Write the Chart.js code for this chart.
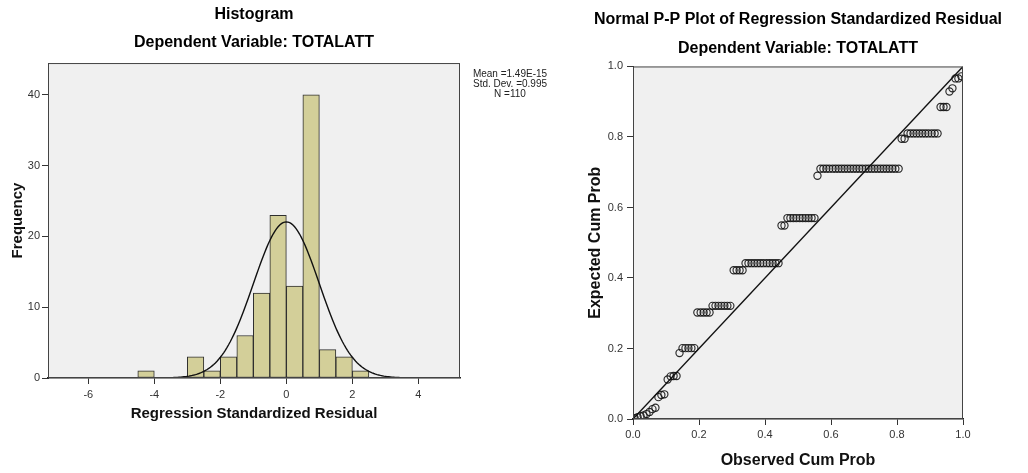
<!DOCTYPE html>
<html>
<head>
<meta charset="utf-8">
<script src="https://cdn.jsdelivr.net/npm/chart.js@4"></script>
<style>
    html, body { margin: 0; padding: 0; background: #fff; }
    body { width: 1028px; height: 473px; position: relative; overflow: hidden; font-family: "Liberation Sans", Arial, sans-serif; }
    #histBox { position: absolute; left: 0; top: 0; width: 560px; height: 473px; }
    #ppBox { position: absolute; left: 560px; top: 0; width: 468px; height: 473px; }
    #stats { position: absolute; left: 460px; top: 69px; width: 100px; text-align: center; font-size: 10px; line-height: 10px; color: #222; }
</style>
</head>
<body>
<div id="histBox"><canvas id="histChart"></canvas></div>
<div id="ppBox"><canvas id="ppChart"></canvas></div>
<div id="stats"></div>
<script>
const FONT = '"Liberation Sans", Arial, sans-serif';

// Histogram: 0.5 wide bins, given by their centres
const histBinCenters = [-4.25, -2.75, -2.25, -1.75, -1.25, -0.75, -0.25, 0.25, 0.75, 1.25, 1.75, 2.25];
const histCounts     = [1, 3, 1, 3, 6, 12, 23, 13, 40, 4, 3, 1];
const histXTicks = [-6, -4, -2, 0, 2, 4];
const histYTicks = [0, 10, 20, 30, 40];
const binWidth = 0.5;
const residMean = 1.49e-15, residMeanLabel = '1.49E-15';
const residSd = 0.995;
const residN = 110;

// Normal P-P plot
const ppTicks = [0, 0.2, 0.4, 0.6, 0.8, 1.0];
const ppDiagonal = [0, 1];
const ppObserved = [
    0.005, 0.014, 0.023, 0.032, 0.041, 0.050, 0.059, 0.068, 0.077, 0.086,
    0.095, 0.105, 0.114, 0.123, 0.132, 0.141, 0.150, 0.159, 0.168, 0.177,
    0.186, 0.195, 0.205, 0.214, 0.223, 0.232, 0.241, 0.250, 0.259, 0.268,
    0.277, 0.286, 0.295, 0.305, 0.314, 0.323, 0.332, 0.341, 0.350, 0.359,
    0.368, 0.377, 0.386, 0.395, 0.405, 0.414, 0.423, 0.432, 0.441, 0.450,
    0.459, 0.468, 0.477, 0.486, 0.495, 0.505, 0.514, 0.523, 0.532, 0.541,
    0.550, 0.559, 0.568, 0.577, 0.586, 0.595, 0.605, 0.614, 0.623, 0.632,
    0.641, 0.650, 0.659, 0.668, 0.677, 0.686, 0.695, 0.705, 0.714, 0.723,
    0.732, 0.741, 0.750, 0.759, 0.768, 0.777, 0.786, 0.795, 0.805, 0.814,
    0.823, 0.832, 0.841, 0.850, 0.859, 0.868, 0.877, 0.886, 0.895, 0.905,
    0.914, 0.923, 0.932, 0.941, 0.950, 0.959, 0.968, 0.977, 0.986, 0.995
];
const ppExpected = [
    0.002, 0.005, 0.008, 0.010, 0.014, 0.020, 0.028, 0.032, 0.062, 0.068,
    0.070, 0.112, 0.121, 0.122, 0.122, 0.187, 0.201, 0.201, 0.201, 0.201,
    0.201, 0.302, 0.302, 0.302, 0.302, 0.302, 0.321, 0.321, 0.321, 0.321,
    0.321, 0.321, 0.321, 0.422, 0.422, 0.422, 0.422, 0.442, 0.442, 0.442,
    0.442, 0.442, 0.442, 0.442, 0.442, 0.442, 0.442, 0.442, 0.442, 0.549,
    0.549, 0.570, 0.570, 0.570, 0.570, 0.570, 0.570, 0.570, 0.570, 0.570,
    0.570, 0.690, 0.710, 0.710, 0.710, 0.710, 0.710, 0.710, 0.710, 0.710,
    0.710, 0.710, 0.710, 0.710, 0.710, 0.710, 0.710, 0.710, 0.710, 0.710,
    0.710, 0.710, 0.710, 0.710, 0.710, 0.710, 0.710, 0.710, 0.710, 0.795,
    0.795, 0.810, 0.810, 0.810, 0.810, 0.810, 0.810, 0.810, 0.810, 0.810,
    0.810, 0.810, 0.885, 0.885, 0.885, 0.929, 0.938, 0.966, 0.966, 0.972
];

Chart.defaults.font.family = FONT;

document.getElementById('stats').innerHTML =
    'Mean =' + residMeanLabel + '<br>Std. Dev. =' + residSd + '<br>N =' + residN;

// fitted normal curve from the mean / sd / N above
const normalCurve = [];
for (let i = 0; i <= 200; i++) {
    const x = -5 + i * 0.05;
    const z = (x - residMean) / residSd;
    normalCurve.push({ x: x, y: residN * binWidth * Math.exp(-0.5 * z * z) / (residSd * Math.sqrt(2 * Math.PI)) });
}

// grey plot background + frame
const plotFrame = {
    id: 'plotFrame',
    beforeDraw(chart) {
        const { ctx, chartArea: a } = chart;
        ctx.save();
        ctx.fillStyle = '#f0f0f0';
        ctx.fillRect(a.left, a.top, a.width, a.height);
        ctx.restore();
    },
    afterDraw(chart) {
        const { ctx, chartArea: a } = chart;
        ctx.save();
        ctx.strokeStyle = '#444';
        ctx.lineWidth = 1;
        ctx.strokeRect(a.left + 0.5, a.top + 0.5, a.width - 1, a.height - 1);
        ctx.restore();
    }
};

const tickFont = { family: FONT, size: 11 };
const tickGrid = { display: true, offset: false, drawOnChartArea: false, drawTicks: true, tickLength: 6, color: '#333' };

// 1. Histogram
new Chart(document.getElementById('histChart'), {
    type: 'bar',
    data: {
        datasets: [
            {
                type: 'line',
                data: normalCurve,
                borderColor: '#111',
                borderWidth: 1.4,
                pointRadius: 0,
                tension: 0,
                order: 0
            },
            {
                type: 'bar',
                data: histBinCenters.map((c, i) => ({ x: c, y: histCounts[i] })),
                backgroundColor: '#d3cf99',
                borderColor: '#2e2e2e',
                borderWidth: 1,
                borderSkipped: false,
                barPercentage: 1,
                categoryPercentage: 1,
                order: 1
            }
        ]
    },
    options: {
        responsive: true,
        maintainAspectRatio: false,
        animation: false,
        layout: { padding: { left: 0, right: 100, top: 0, bottom: 0 } },
        plugins: {
            legend: { display: false },
            tooltip: { enabled: false },
            title: {
                display: true,
                fullSize: false,
                text: ['Histogram', 'Dependent Variable: TOTALATT'],
                color: '#000',
                font: { family: FONT, size: 16, weight: 'bold', lineHeight: 1.72 },
                padding: { top: 1, bottom: 7 }
            }
        },
        scales: {
            x: {
                type: 'linear',
                min: -7.22,
                max: 5.26,
                offset: false,
                afterBuildTicks: s => { s.ticks = histXTicks.map(v => ({ value: v })); },
                afterFit: s => { s.height = 95; },
                grid: tickGrid,
                border: { color: '#222', width: 1.5 },
                ticks: { color: '#333', font: tickFont, padding: 4, maxRotation: 0, autoSkip: false },
                title: {
                    display: true,
                    text: 'Regression Standardized Residual',
                    color: '#111',
                    font: { family: FONT, size: 15, weight: 'bold' },
                    padding: { top: 0, bottom: 50 }
                }
            },
            y: {
                min: 0,
                max: 44.5,
                afterBuildTicks: s => { s.ticks = histYTicks.map(v => ({ value: v })); },
                afterFit: s => { s.width = 48; },
                grid: tickGrid,
                border: { color: '#333' },
                ticks: { color: '#333', font: tickFont, padding: 2 },
                title: {
                    display: true,
                    text: 'Frequency',
                    color: '#111',
                    font: { family: FONT, size: 15, weight: 'bold' },
                    padding: { top: 9, bottom: 0 }
                }
            }
        }
    },
    plugins: [plotFrame]
});

// 2. Normal P-P plot
new Chart(document.getElementById('ppChart'), {
    type: 'scatter',
    data: {
        datasets: [
            {
                data: ppDiagonal.map(v => ({ x: v, y: v })),
                showLine: true,
                borderColor: '#111',
                borderWidth: 1.4,
                pointRadius: 0,
                order: 0
            },
            {
                data: ppObserved.map((x, i) => ({ x: x, y: ppExpected[i] })),
                pointStyle: 'circle',
                pointRadius: 3.6,
                borderColor: 'rgba(20,20,20,0.9)',
                borderWidth: 1.15,
                backgroundColor: 'rgba(0,0,0,0)',
                order: 1
            }
        ]
    },
    options: {
        responsive: true,
        maintainAspectRatio: false,
        animation: false,
        layout: { padding: { left: 9, right: 1, top: 0, bottom: 0 } },
        plugins: {
            legend: { display: false },
            tooltip: { enabled: false },
            title: {
                display: true,
                text: ['Normal P-P Plot of Regression Standardized Residual', 'Dependent Variable: TOTALATT'],
                color: '#000',
                font: { family: FONT, size: 16, weight: 'bold', lineHeight: 1.78 },
                padding: { top: 5.5, bottom: 4 }
            }
        },
        scales: {
            x: {
                type: 'linear',
                min: 0,
                max: 1,
                afterBuildTicks: s => { s.ticks = ppTicks.map(v => ({ value: v })); },
                afterFit: s => { s.height = 54; },
                grid: tickGrid,
                border: { color: '#222', width: 1.5 },
                ticks: { color: '#333', font: tickFont, padding: 3, maxRotation: 0, autoSkip: false, callback: v => Number(v).toFixed(1) },
                title: {
                    display: true,
                    text: 'Observed Cum Prob',
                    color: '#111',
                    font: { family: FONT, size: 16, weight: 'bold' },
                    padding: { top: 0, bottom: 2.4 }
                }
            },
            y: {
                min: 0,
                max: 1,
                afterBuildTicks: s => { s.ticks = ppTicks.map(v => ({ value: v })); },
                afterFit: s => { s.width = 64; },
                grid: tickGrid,
                border: { color: '#333' },
                ticks: { color: '#333', font: tickFont, padding: 4, callback: v => Number(v).toFixed(1) },
                title: {
                    display: true,
                    text: 'Expected Cum Prob',
                    color: '#111',
                    font: { family: FONT, size: 16, weight: 'bold' },
                    padding: { top: 17.4, bottom: 0 }
                }
            },
            // empty right axis so the plot sits centred under the wide title
            y2: {
                position: 'right',
                display: true,
                afterFit: s => { s.width = 64; },
                grid: { display: false },
                border: { display: false },
                ticks: { display: false }
            }
        }
    },
    plugins: [plotFrame]
});
</script>
</body>
</html>
